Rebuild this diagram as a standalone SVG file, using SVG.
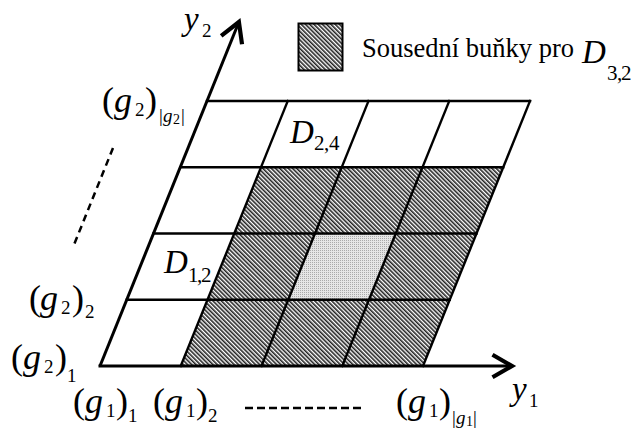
<svg xmlns="http://www.w3.org/2000/svg" width="631" height="429" viewBox="0 0 631 429" font-family="'Liberation Serif', 'Times New Roman', serif">
<style>
text, tspan{font-family:"Liberation Serif","Times New Roman",serif}
text{fill:#000}
.m{font-size:36px}
.dd{font-size:33px}
.i{font-style:italic}
.s{font-size:19px}
.ss{font-size:14px}
.d{font-size:21px}
.gl{stroke:#000;stroke-width:2.4;fill:none;stroke-linecap:square}
.ax{stroke:#000;stroke-width:3;fill:none}
.dash{stroke:#000;stroke-width:2.5;fill:none}
</style>
<defs>
<pattern id="hatch" width="3" height="3" patternUnits="userSpaceOnUse" patternTransform="rotate(-45)">
<rect width="3" height="3" fill="#fff"/>
<rect width="1.6" height="3" fill="#222"/>
</pattern>
<pattern id="dots" width="2" height="2" patternUnits="userSpaceOnUse">
<rect width="2" height="2" fill="#e6e6e6"/>
<rect width="1" height="1" fill="#aaa"/>
</pattern>
<marker id="arr" markerUnits="userSpaceOnUse" markerWidth="30" markerHeight="30" refX="0" refY="0" viewBox="-16 -10 20 20" orient="auto">
<path d="M-13,-7.5 L0,0 L-13,7.5" fill="none" stroke="#000" stroke-width="2.8"/>
</marker>
</defs>

<g id="cells">
<polygon points="180.75,366 423,366 503.25,167.25 261,167.25" fill="url(#hatch)"/>
<polygon points="288.25,299.75 369,299.75 395.75,233.5 315,233.5" fill="url(#dots)"/>
</g>

<g id="gridlines">
<line class="gl" x1="126.75" y1="299.75" x2="449.75" y2="299.75"/>
<line class="gl" x1="153.5" y1="233.5" x2="476.5" y2="233.5"/>
<line class="gl" x1="180.25" y1="167.25" x2="503.25" y2="167.25"/>
<line class="gl" x1="207" y1="101" x2="530" y2="101" stroke-width="1.8"/>
<line class="gl" x1="180.75" y1="366" x2="287.75" y2="101"/>
<line class="gl" x1="261.5" y1="366" x2="368.5" y2="101"/>
<line class="gl" x1="342.25" y1="366" x2="449.25" y2="101"/>
<line class="gl" x1="423" y1="366" x2="530" y2="101"/>
</g>

<g id="connectors">
<line class="ax" x1="100" y1="366" x2="238.9" y2="22" marker-end="url(#arr)"/>
<line class="ax" x1="98.5" y1="366" x2="512" y2="366" marker-end="url(#arr)"/>
<line class="dash" x1="113" y1="148" x2="73.5" y2="246" stroke-dasharray="7,5"/>
<line class="dash" x1="245" y1="408" x2="365" y2="408" stroke-dasharray="8,4"/>
</g>

<g id="legend">
<rect x="298.5" y="23.5" width="44" height="47" fill="url(#hatch)" stroke="#000" stroke-width="2"/>
<text font-family="Liberation Serif" style="font-size:26.5px" x="362" y="57">Sousední buňky pro</text>
<text font-family="Liberation Serif"><tspan class="dd i" x="582" y="63">D</tspan><tspan class="d" x="607" y="80">3</tspan><tspan class="d" x="617" y="80">,</tspan><tspan class="d" x="621" y="80">2</tspan></text>
</g>

<g id="labels" font-family="Liberation Serif">
<text id="y2"><tspan class="dd i" x="184" y="30">y</tspan><tspan class="s" x="202" y="37">2</tspan></text>
<text id="y1"><tspan class="dd i" x="512" y="400">y</tspan><tspan class="s" x="529" y="407">1</tspan></text>

<text id="g2top"><tspan class="m" x="102" y="112">(</tspan><tspan class="m i" x="114" y="112">g</tspan><tspan class="s" x="135" y="116">2</tspan><tspan class="m" x="145" y="112">)</tspan><tspan class="s" x="159" y="122">|</tspan><tspan class="s i" x="163" y="122">g</tspan><tspan class="ss" x="173" y="124">2</tspan><tspan class="s" x="181" y="122">|</tspan></text>
<text id="g2_2"><tspan class="m" x="29" y="310">(</tspan><tspan class="m i" x="40" y="310">g</tspan><tspan class="s" x="61" y="314">2</tspan><tspan class="m" x="72" y="310">)</tspan><tspan class="s" x="85" y="318">2</tspan></text>
<text id="g2_1"><tspan class="m" x="11" y="369">(</tspan><tspan class="m i" x="23" y="369">g</tspan><tspan class="s" x="44" y="373">2</tspan><tspan class="m" x="55" y="369">)</tspan><tspan class="s" x="67" y="382">1</tspan></text>
<text id="g1_1"><tspan class="m" x="73" y="413">(</tspan><tspan class="m i" x="85" y="413">g</tspan><tspan class="s" x="106" y="417">1</tspan><tspan class="m" x="116" y="413">)</tspan><tspan class="s" x="128" y="422">1</tspan></text>
<text id="g1_2"><tspan class="m" x="153" y="413">(</tspan><tspan class="m i" x="165" y="413">g</tspan><tspan class="s" x="186" y="417">1</tspan><tspan class="m" x="196" y="413">)</tspan><tspan class="s" x="208" y="422">2</tspan></text>
<text id="g1_n"><tspan class="m" x="396" y="413">(</tspan><tspan class="m i" x="408" y="413">g</tspan><tspan class="s" x="429" y="417">1</tspan><tspan class="m" x="439" y="413">)</tspan><tspan class="s" x="452" y="424">|</tspan><tspan class="s i" x="456" y="424">g</tspan><tspan class="ss" x="466" y="426">1</tspan><tspan class="s" x="473" y="424">|</tspan></text>

<text id="D24"><tspan class="dd i" x="290" y="143">D</tspan><tspan class="d" x="314" y="150">2</tspan><tspan class="d" x="324" y="150">,</tspan><tspan class="d" x="329" y="150">4</tspan></text>
<text id="D12"><tspan class="dd i" x="164" y="273">D</tspan><tspan class="d" x="188" y="282">1</tspan><tspan class="d" x="197" y="282">,</tspan><tspan class="d" x="201" y="282">2</tspan></text>
</g>
</svg>
